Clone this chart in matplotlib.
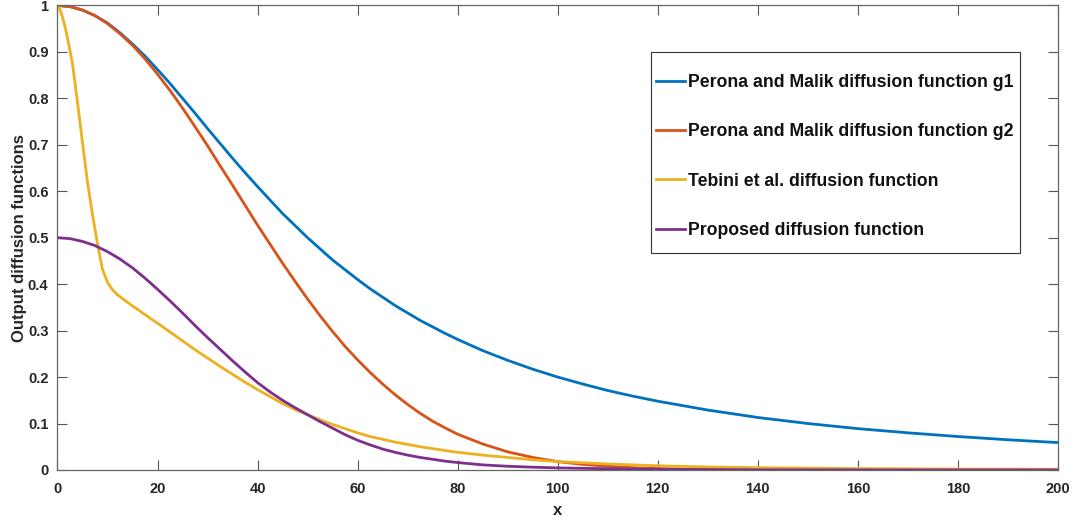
import matplotlib
matplotlib.use("Agg")
import matplotlib.pyplot as plt
from matplotlib.patches import Rectangle

# x positions
x_pm = [0, 2.5, 5, 7.5, 10, 12.5, 15, 17.5, 20, 22.5, 25, 27.5, 30, 32.5, 35, 37.5,
        40, 42.5, 45, 47.5, 50, 52.5, 55, 57.5, 60, 62.5, 65, 67.5, 70, 72.5, 75, 77.5,
        80, 85, 90, 95, 100, 105, 110, 115, 120, 130, 140, 150, 160, 170, 180, 190, 200]

g1 = [1.0, 0.9975, 0.990, 0.978, 0.962, 0.941, 0.917, 0.891, 0.862, 0.832, 0.800, 0.768,
      0.735, 0.703, 0.671, 0.640, 0.610, 0.581, 0.552, 0.526, 0.500, 0.476, 0.452, 0.431,
      0.410, 0.390, 0.372, 0.354, 0.338, 0.322, 0.308, 0.294, 0.281,
      0.257, 0.236, 0.217, 0.200, 0.185, 0.171, 0.159, 0.148,
      0.129, 0.113, 0.100, 0.089, 0.080, 0.072, 0.065, 0.059]

g2 = [1.0, 0.9975, 0.990, 0.978, 0.961, 0.939, 0.914, 0.885, 0.852, 0.817, 0.779, 0.739,
      0.698, 0.655, 0.613, 0.570, 0.527, 0.486, 0.445, 0.406, 0.368, 0.332, 0.298, 0.266,
      0.237, 0.210, 0.185, 0.162, 0.141, 0.122, 0.105, 0.0905, 0.077,
      0.056, 0.039, 0.027, 0.018, 0.012, 0.008, 0.005, 0.003,
      0.001, 0.0004, 0.0, 0.0, 0.0, 0.0, 0.0, 0.0]

proposed = [0.500, 0.498, 0.492, 0.483, 0.470, 0.454, 0.435, 0.413, 0.389, 0.364, 0.338,
            0.311, 0.285, 0.260, 0.235, 0.211, 0.188, 0.168, 0.150, 0.134, 0.119, 0.104,
            0.090, 0.076, 0.064, 0.054, 0.045, 0.038, 0.032, 0.027, 0.023, 0.019, 0.016,
            0.011, 0.008, 0.006, 0.0045, 0.0035, 0.0027, 0.002, 0.0015,
            0.0008, 0.0004, 0.0002, 0.0001, 0.0, 0.0, 0.0, 0.0]

x_teb = [0, 0.5, 1, 1.5, 2, 3, 4, 5, 6, 7, 8, 9, 10, 11, 12, 13, 14, 15, 16, 17, 18, 19,
         20, 22.5, 25, 27.5, 30, 32.5, 35, 37.5, 40, 42.5, 45, 47.5, 50, 52.5, 55, 57.5,
         60, 62.5, 65, 67.5, 70, 72.5, 75, 77.5, 80, 85, 90, 95, 100, 110, 120, 130, 140,
         150, 160, 170, 180, 190, 200]
tebini = [1.0, 0.992, 0.975, 0.955, 0.930, 0.875, 0.792, 0.705, 0.620, 0.550, 0.487,
          0.432, 0.404, 0.388, 0.377, 0.369, 0.361, 0.353, 0.346, 0.338, 0.331, 0.323,
          0.316, 0.297, 0.278, 0.259, 0.241, 0.223, 0.206, 0.189, 0.173, 0.158, 0.143,
          0.130, 0.119, 0.108, 0.098, 0.089, 0.080, 0.072, 0.066, 0.060, 0.055, 0.050,
          0.046, 0.042, 0.038, 0.032, 0.027, 0.022, 0.018, 0.013, 0.009, 0.0065, 0.005,
          0.004, 0.003, 0.0025, 0.002, 0.0018, 0.0015]

labels = ["Perona and Malik diffusion function g1",
          "Perona and Malik diffusion function g2",
          "Tebini et al. diffusion function",
          "Proposed diffusion function"]
colors = ["#0072BD", "#D95319", "#EDB120", "#7E2F8E"]

xticks = [0, 20, 40, 60, 80, 100, 120, 140, 160, 180, 200]
yticks = [0, 0.1, 0.2, 0.3, 0.4, 0.5, 0.6, 0.7, 0.8, 0.9, 1]
ytick_labels = ["0", "0.1", "0.2", "0.3", "0.4", "0.5", "0.6", "0.7", "0.8", "0.9", "1"]

plt.rcParams['font.family'] = ['Liberation Sans', 'DejaVu Sans']

fig = plt.figure(figsize=(10.82, 5.25), dpi=100)
ax = fig.add_axes([0.0531, 0.1048, 0.9247, 0.8849])

ax.plot(x_pm, g1, color=colors[0], lw=2, label=labels[0])
ax.plot(x_pm, g2, color=colors[1], lw=2, label=labels[1])
ax.plot(x_teb, tebini, color=colors[2], lw=2, label=labels[2])
ax.plot(x_pm, proposed, color=colors[3], lw=2, label=labels[3])

ax.set_xlim(0, 200)
ax.set_ylim(0, 1)
ax.set_xticks(xticks)
ax.set_xticklabels([str(t) for t in xticks])
ax.set_yticks(yticks)
ax.set_yticklabels(ytick_labels)

ax.tick_params(direction='in', length=7, width=0.8, top=True, right=True,
               colors='#555555', labelcolor='#262626', labelsize=10.5)
ax.tick_params(axis='x', pad=9)
ax.tick_params(axis='y', pad=6.5)
for lab in ax.get_xticklabels() + ax.get_yticklabels():
    lab.set_fontweight('bold')
for sp in ax.spines.values():
    sp.set_color('#666666')
    sp.set_linewidth(0.9)

ax.set_xlabel('x', fontsize=12, fontweight='bold', color='#262626', labelpad=5)
ax.set_ylabel('Output diffusion functions', fontsize=12, fontweight='bold',
              color='#262626', labelpad=0.5)

# legend box drawn by hand, MATLAB-style (tight sides, roomy top/bottom)
ax.add_patch(Rectangle((0.5932, 0.4671), 0.3688, 0.4326, transform=ax.transAxes,
                       facecolor='white', edgecolor='#333333', lw=0.8, zorder=4))
leg = ax.legend(loc='center', bbox_to_anchor=(0.7771, 0.6747), frameon=False,
                handlelength=1.6, handletextpad=0.2, borderpad=0, labelspacing=1.82,
                borderaxespad=0, prop={'weight': 'bold', 'size': 12.7})
leg.set_zorder(5)
for t in leg.get_texts():
    t.set_color('#111111')

fig.savefig('out.png', dpi=100)
